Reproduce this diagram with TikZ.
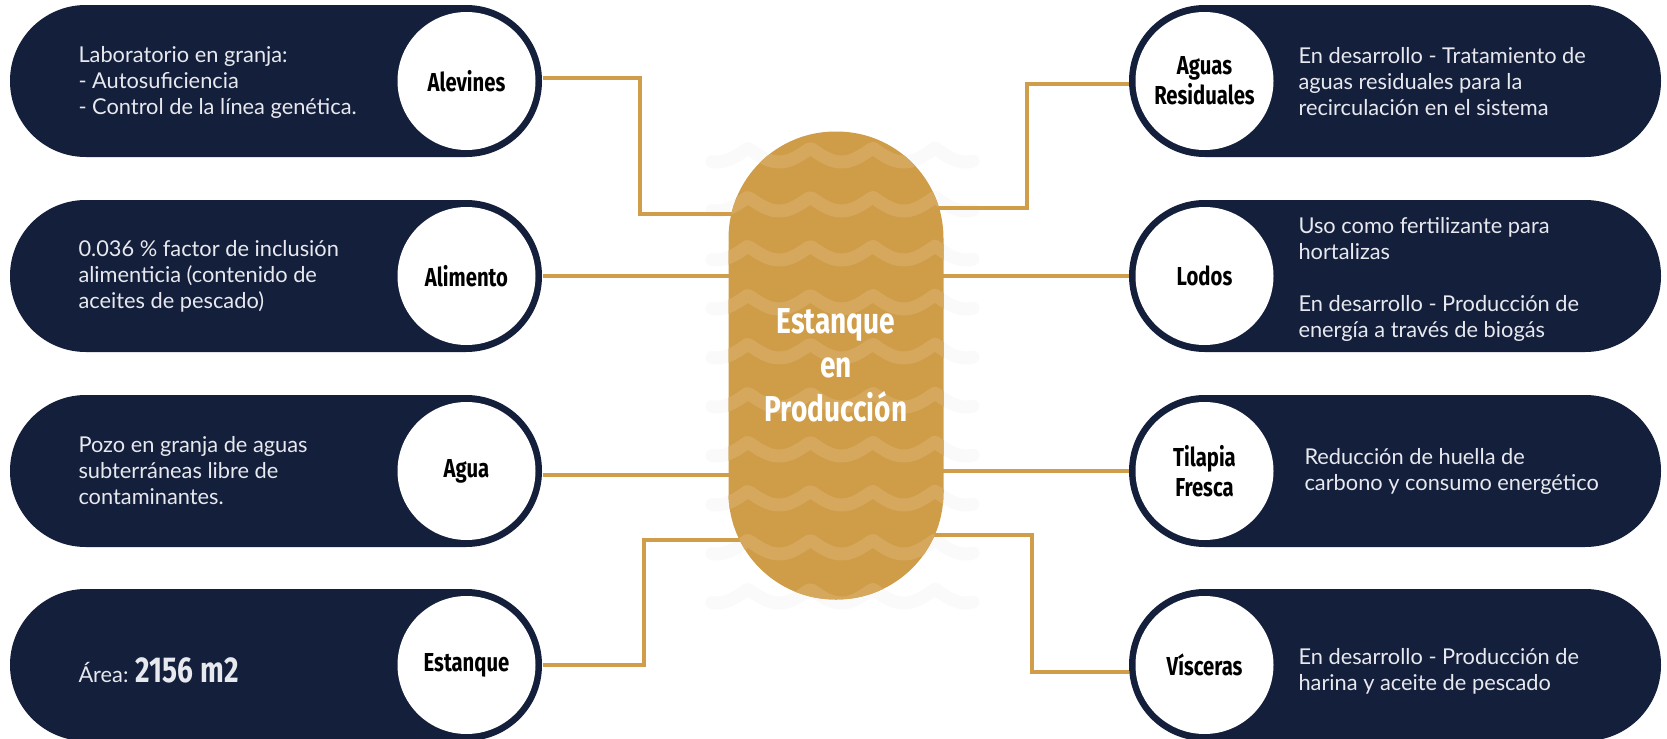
\documentclass[tikz,border=0pt]{standalone}
\usepackage{fontspec}
\setmainfont{Lato}
\newfontfamily\headfont[FakeStretch=0.78]{Fira Sans}
\usetikzlibrary{backgrounds}
\definecolor{navy}{HTML}{131F3B}
\definecolor{gold}{HTML}{D09D4A}
\definecolor{pond}{HTML}{CF9C48}
\definecolor{ripple}{HTML}{D6A85E}
\definecolor{haze}{HTML}{FAFAFA}
\definecolor{ink}{HTML}{E8E9EF}
\tikzset{px/.style={x=.5pt,y=-.5pt,line width=.5pt},
  pill/.style={fill=navy,rounded corners=37.9pt,minimum width=266pt,minimum height=76pt,inner sep=0pt},
  disc/.style={circle,fill=white,minimum size=69pt,inner sep=0pt,align=center,text=black,font=\headfont\bfseries\fontsize{13}{15}\selectfont},
  blurb/.style={text=ink,align=left,inner sep=0pt,font=\fontsize{10.9}{13}\selectfont},
  link/.style={gold,line width=1.7pt},
  wave/.style={line width=6.5pt,line cap=round,line join=round}}

\begin{document}
\begin{tikzpicture}[px]
  \useasboundingbox (0,0) rectangle (1667,739);
  % left side
  \foreach \n/\y/\ty/\lab/\txt in {alev/81/82/Alevines/{Laboratorio en granja:\\- Autosuficiencia\\- Control de la línea genética.},
      alim/276/276/Alimento/{0.036 \% factor de inclusión\\alimenticia (contenido de\\aceites de pescado)},
      agua/471/471/Agua/{Pozo en granja de aguas\\subterráneas libre de\\contaminantes.}}{
    \node[pill] (p\n) at (276,\y){};
    \node[disc] (c\n) at ([xshift=-38pt]p\n.east){\lab};
    \node[blurb,anchor=west] (t\n) at (78,\ty){\txt};}
  \node[pill] (pestq) at (276,665){};
  \node[disc] (cestq) at ([xshift=-38pt]pestq.east){Estanque};
  \node[blurb,anchor=base west] (testq) at (78,682){Área: {\headfont\bfseries\fontsize{18}{22}\selectfont 2156 m2}};
  % right side
  \foreach \n/\y/\tx/\ty/\lab/\txt in {agres/81/1298/82/{Aguas\\Residuales}/{En desarrollo - Tratamiento de\\aguas residuales para la\\recirculación en el sistema},
      lodos/276/1298/279/Lodos/{Uso como fertilizante para\\hortalizas\\[13pt]En desarrollo - Producción de\\energía a través de biogás},
      tilap/471/1304/471/{Tilapia\\Fresca}/{Reducción de huella de\\carbono y consumo energético},
      visc/665/1298/671/Vísceras/{En desarrollo - Producción de\\harina y aceite de pescado}}{
    \node[pill] (p\n) at (1395,\y){};
    \node[disc] (c\n) at ([xshift=38pt]p\n.west){\lab};
    \node[blurb,anchor=west] (t\n) at (\tx,\ty){\txt};}
  % pond
  \node[text=white,align=center,minimum width=107pt,minimum height=233.5pt,font=\headfont\bfseries\fontsize{18}{22}\selectfont] (ctr) at (836,365.5){Estanque\\en\\Producción};
  \coordinate (kalev) at (640,214);\coordinate (kestq) at (644,540);
  \coordinate (kagres) at (1027,208);\coordinate (kvisc) at (1032,535);
  \begin{scope}[on background layer]
    \foreach \r in {0,...,9}{\draw[wave,haze] plot[domain=712:973,samples=90] (\x,{148+49*\r+14*abs(sin((\x-748)*2.889))});}
    \draw[link] ([yshift=1.5pt]palev.east) -| (kalev) -- (ctr.center |- kalev);
    \draw[link] (palim.east) -- (ctr.center |- palim.east);
    \draw[link] ([yshift=-2pt]pagua.east) -- (ctr.center |- 0,475);
    \draw[link] (pestq.east) -| (kestq) -- (ctr.center |- kestq);
    \draw[link] ([yshift=-1.5pt]pagres.west) -| (kagres) -- (ctr.center |- kagres);
    \draw[link] (plodos.west) -- (ctr.center |- plodos.west);
    \draw[link] (ptilap.west) -- (ctr.center |- ptilap.west);
    \draw[link] ([yshift=-3.5pt]pvisc.west) -| (kvisc) -- (ctr.center |- kvisc);
    \fill[pond,rounded corners=53.4pt] (ctr.north west) rectangle (ctr.south east);
    \begin{scope}
      \clip[rounded corners=53.4pt] (ctr.north west) rectangle (ctr.south east);
      \foreach \r in {0,...,9}{\draw[wave,ripple] plot[domain=712:973,samples=90] (\x,{148+49*\r+14*abs(sin((\x-748)*2.889))});}
    \end{scope}
  \end{scope}
\end{tikzpicture}
\end{document}
